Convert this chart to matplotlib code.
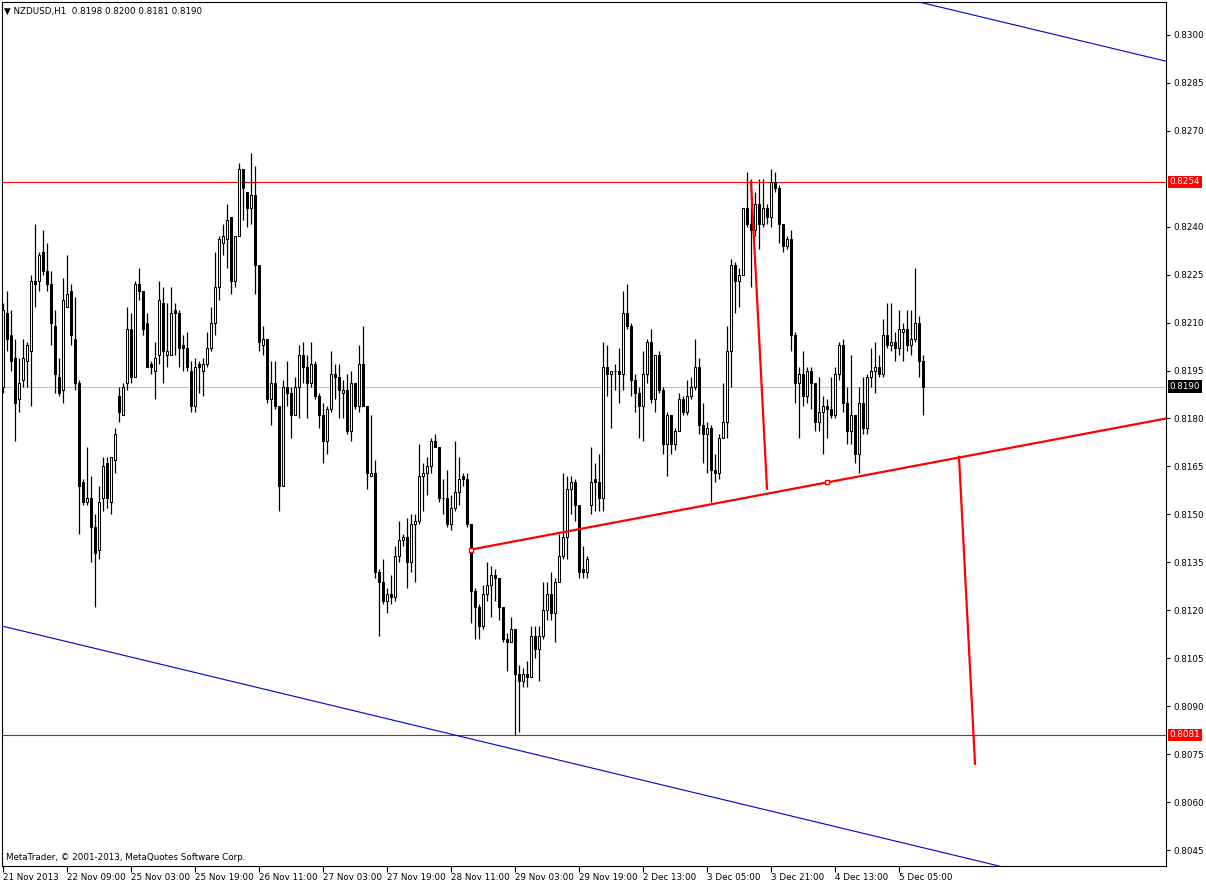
import numpy as np
import matplotlib
matplotlib.use('Agg')
import matplotlib.pyplot as plt

# NZDUSD H1 bars, 21 Nov 2013 -> 5 Dec 2013
opens = [
    0.8190, 0.8213, 0.8206, 0.8199, 0.8186, 0.8192, 0.8198, 0.8201, 0.8223, 0.8223,
    0.8232, 0.8226, 0.8222, 0.8209, 0.8193, 0.8189, 0.8215, 0.8220, 0.8205, 0.8191,
    0.8160, 0.8154, 0.8155, 0.8146, 0.8139, 0.8155, 0.8166, 0.8154, 0.8167, 0.8187,
    0.8181, 0.8191, 0.8208, 0.8193, 0.8222, 0.8220, 0.8210, 0.8197, 0.8195, 0.8200,
    0.8216, 0.8200, 0.8200, 0.8214, 0.8213, 0.8203, 0.8202, 0.8195, 0.8184, 0.8197,
    0.8195, 0.8197, 0.8202, 0.8210, 0.8221, 0.8235, 0.8236, 0.8243, 0.8223, 0.8237,
    0.8258, 0.8251, 0.8246, 0.8250, 0.8228, 0.8203, 0.8205, 0.8186, 0.8191, 0.8184,
    0.8159, 0.8190, 0.8188, 0.8181, 0.8190, 0.8200, 0.8196, 0.8191, 0.8197, 0.8187,
    0.8181, 0.8173, 0.8183, 0.8194, 0.8193, 0.8188, 0.8189, 0.8176, 0.8191, 0.8184,
    0.8197, 0.8184, 0.8162, 0.8163, 0.8132, 0.8129, 0.8123, 0.8125, 0.8124, 0.8137,
    0.8142, 0.8143, 0.8135, 0.8147, 0.8148, 0.8162, 0.8163, 0.8165, 0.8173, 0.8171,
    0.8155, 0.8155, 0.8147, 0.8152, 0.8157, 0.8162, 0.8161, 0.8147, 0.8126, 0.8121,
    0.8115, 0.8125, 0.8128, 0.8131, 0.8130, 0.8121, 0.8111, 0.8110, 0.8114, 0.8100,
    0.8098, 0.8100, 0.8099, 0.8112, 0.8108, 0.8112, 0.8120, 0.8125, 0.8119, 0.8129,
    0.8137, 0.8143, 0.8158, 0.8160, 0.8153, 0.8133, 0.8132, 0.8153, 0.8161, 0.8160,
    0.8155, 0.8196, 0.8194, 0.8195, 0.8195, 0.8194, 0.8213, 0.8209, 0.8192, 0.8188,
    0.8184, 0.8194, 0.8204, 0.8186, 0.8200, 0.8189, 0.8172, 0.8181, 0.8172, 0.8176,
    0.8186, 0.8182, 0.8187, 0.8190, 0.8196, 0.8178, 0.8175, 0.8177, 0.8164, 0.8163,
    0.8174, 0.8179, 0.8201, 0.8228, 0.8223, 0.8225, 0.8246, 0.8241, 0.8239, 0.8247,
    0.8241, 0.8246, 0.8243, 0.8254, 0.8252, 0.8241, 0.8234, 0.8236, 0.8206, 0.8191,
    0.8194, 0.8187, 0.8195, 0.8191, 0.8179, 0.8182, 0.8184, 0.8183, 0.8181, 0.8194,
    0.8203, 0.8185, 0.8176, 0.8181, 0.8169, 0.8185, 0.8177, 0.8193, 0.8195, 0.8196,
    0.8194, 0.8206, 0.8203, 0.8204, 0.8202, 0.8207, 0.8208, 0.8203, 0.8205, 0.8210,
    0.8198,
]
highs = [
    0.8216, 0.8220, 0.8214, 0.8205, 0.8199, 0.8205, 0.8204, 0.8225, 0.8241, 0.8232,
    0.8239, 0.8235, 0.8226, 0.8214, 0.8199, 0.8224, 0.8231, 0.8222, 0.8218, 0.8192,
    0.8161, 0.8171, 0.8162, 0.8150, 0.8159, 0.8168, 0.8168, 0.8168, 0.8177, 0.8190,
    0.8191, 0.8215, 0.8213, 0.8223, 0.8227, 0.8220, 0.8213, 0.8198, 0.8204, 0.8223,
    0.8221, 0.8216, 0.8221, 0.8216, 0.8214, 0.8206, 0.8207, 0.8198, 0.8199, 0.8198,
    0.8199, 0.8207, 0.8215, 0.8232, 0.8237, 0.8241, 0.8247, 0.8243, 0.8237, 0.8260,
    0.8258, 0.8251, 0.8263, 0.8259, 0.8228, 0.8209, 0.8205, 0.8198, 0.8198, 0.8184,
    0.8192, 0.8198, 0.8190, 0.8193, 0.8203, 0.8204, 0.8200, 0.8204, 0.8198, 0.8188,
    0.8185, 0.8184, 0.8201, 0.8197, 0.8197, 0.8192, 0.8194, 0.8195, 0.8191, 0.8203,
    0.8209, 0.8184, 0.8181, 0.8167, 0.8133, 0.8136, 0.8127, 0.8131, 0.8140, 0.8148,
    0.8144, 0.8149, 0.8150, 0.8150, 0.8172, 0.8166, 0.8168, 0.8174, 0.8175, 0.8171,
    0.8161, 0.8164, 0.8156, 0.8173, 0.8168, 0.8163, 0.8163, 0.8147, 0.8127, 0.8122,
    0.8128, 0.8135, 0.8134, 0.8133, 0.8130, 0.8121, 0.8113, 0.8118, 0.8114, 0.8103,
    0.8102, 0.8104, 0.8115, 0.8115, 0.8115, 0.8129, 0.8129, 0.8132, 0.8130, 0.8144,
    0.8163, 0.8162, 0.8162, 0.8161, 0.8153, 0.8140, 0.8137, 0.8171, 0.8166, 0.8169,
    0.8204, 0.8203, 0.8195, 0.8197, 0.8202, 0.8220, 0.8222, 0.8210, 0.8194, 0.8190,
    0.8201, 0.8205, 0.8208, 0.8200, 0.8201, 0.8190, 0.8182, 0.8181, 0.8177, 0.8188,
    0.8187, 0.8192, 0.8193, 0.8205, 0.8199, 0.8185, 0.8179, 0.8178, 0.8169, 0.8175,
    0.8191, 0.8209, 0.8230, 0.8229, 0.8227, 0.8246, 0.8257, 0.8255, 0.8251, 0.8255,
    0.8255, 0.8247, 0.8258, 0.8257, 0.8253, 0.8241, 0.8237, 0.8239, 0.8207, 0.8196,
    0.8201, 0.8196, 0.8196, 0.8191, 0.8193, 0.8187, 0.8186, 0.8193, 0.8196, 0.8204,
    0.8205, 0.8190, 0.8200, 0.8181, 0.8190, 0.8193, 0.8194, 0.8202, 0.8204, 0.8200,
    0.8211, 0.8216, 0.8216, 0.8207, 0.8214, 0.8210, 0.8214, 0.8214, 0.8227, 0.8212,
    0.8200,
]
lows = [
    0.8188, 0.8201, 0.8195, 0.8173, 0.8182, 0.8190, 0.8190, 0.8184, 0.8215, 0.8220,
    0.8225, 0.8220, 0.8203, 0.8188, 0.8187, 0.8185, 0.8215, 0.8203, 0.8189, 0.8144,
    0.8153, 0.8153, 0.8135, 0.8121, 0.8136, 0.8151, 0.8152, 0.8150, 0.8163, 0.8179,
    0.8181, 0.8189, 0.8191, 0.8193, 0.8217, 0.8206, 0.8196, 0.8194, 0.8186, 0.8197,
    0.8191, 0.8196, 0.8200, 0.8200, 0.8196, 0.8195, 0.8195, 0.8182, 0.8182, 0.8188,
    0.8187, 0.8196, 0.8201, 0.8206, 0.8217, 0.8231, 0.8227, 0.8219, 0.8221, 0.8237,
    0.8242, 0.8240, 0.8241, 0.8219, 0.8201, 0.8200, 0.8185, 0.8178, 0.8183, 0.8151,
    0.8159, 0.8184, 0.8174, 0.8181, 0.8180, 0.8191, 0.8180, 0.8190, 0.8186, 0.8177,
    0.8166, 0.8169, 0.8182, 0.8186, 0.8180, 0.8180, 0.8175, 0.8173, 0.8183, 0.8182,
    0.8184, 0.8158, 0.8162, 0.8130, 0.8112, 0.8122, 0.8119, 0.8122, 0.8123, 0.8135,
    0.8140, 0.8127, 0.8132, 0.8129, 0.8147, 0.8151, 0.8156, 0.8163, 0.8171, 0.8154,
    0.8150, 0.8146, 0.8145, 0.8151, 0.8153, 0.8159, 0.8146, 0.8116, 0.8111, 0.8111,
    0.8114, 0.8123, 0.8118, 0.8123, 0.8117, 0.8110, 0.8101, 0.8110, 0.8081, 0.8082,
    0.8096, 0.8096, 0.8099, 0.8105, 0.8098, 0.8111, 0.8117, 0.8117, 0.8110, 0.8129,
    0.8136, 0.8136, 0.8150, 0.8148, 0.8130, 0.8130, 0.8130, 0.8150, 0.8151, 0.8151,
    0.8151, 0.8187, 0.8177, 0.8189, 0.8185, 0.8189, 0.8208, 0.8187, 0.8182, 0.8174,
    0.8173, 0.8191, 0.8185, 0.8182, 0.8188, 0.8169, 0.8162, 0.8169, 0.8170, 0.8176,
    0.8181, 0.8181, 0.8186, 0.8189, 0.8175, 0.8166, 0.8163, 0.8154, 0.8160, 0.8161,
    0.8174, 0.8174, 0.8190, 0.8213, 0.8215, 0.8225, 0.8240, 0.8221, 0.8237, 0.8233,
    0.8240, 0.8241, 0.8240, 0.8251, 0.8235, 0.8232, 0.8233, 0.8201, 0.8185, 0.8174,
    0.8184, 0.8185, 0.8183, 0.8176, 0.8176, 0.8169, 0.8174, 0.8180, 0.8180, 0.8192,
    0.8182, 0.8172, 0.8172, 0.8166, 0.8163, 0.8175, 0.8175, 0.8190, 0.8188, 0.8193,
    0.8193, 0.8202, 0.8201, 0.8198, 0.8200, 0.8198, 0.8201, 0.8200, 0.8204, 0.8193,
    0.8181,
]
closes = [
    0.8214, 0.8205, 0.8198, 0.8185, 0.8191, 0.8199, 0.8203, 0.8223, 0.8222, 0.8231,
    0.8226, 0.8222, 0.8210, 0.8194, 0.8188, 0.8217, 0.8219, 0.8206, 0.8191, 0.8159,
    0.8154, 0.8155, 0.8146, 0.8138, 0.8154, 0.8165, 0.8155, 0.8168, 0.8175, 0.8182,
    0.8190, 0.8208, 0.8193, 0.8222, 0.8220, 0.8208, 0.8196, 0.8196, 0.8199, 0.8217,
    0.8201, 0.8201, 0.8213, 0.8213, 0.8202, 0.8202, 0.8196, 0.8184, 0.8196, 0.8196,
    0.8197, 0.8202, 0.8210, 0.8221, 0.8236, 0.8237, 0.8242, 0.8223, 0.8237, 0.8258,
    0.8252, 0.8246, 0.8250, 0.8228, 0.8204, 0.8205, 0.8186, 0.8191, 0.8184, 0.8159,
    0.8190, 0.8188, 0.8181, 0.8190, 0.8200, 0.8196, 0.8191, 0.8197, 0.8187, 0.8181,
    0.8173, 0.8183, 0.8194, 0.8193, 0.8189, 0.8189, 0.8176, 0.8191, 0.8184, 0.8197,
    0.8184, 0.8163, 0.8163, 0.8132, 0.8129, 0.8123, 0.8125, 0.8124, 0.8137, 0.8142,
    0.8143, 0.8135, 0.8147, 0.8148, 0.8162, 0.8163, 0.8165, 0.8173, 0.8171, 0.8155,
    0.8155, 0.8147, 0.8152, 0.8157, 0.8161, 0.8161, 0.8147, 0.8126, 0.8121, 0.8115,
    0.8125, 0.8128, 0.8131, 0.8130, 0.8121, 0.8111, 0.8110, 0.8114, 0.8100, 0.8098,
    0.8100, 0.8099, 0.8112, 0.8108, 0.8112, 0.8120, 0.8125, 0.8119, 0.8129, 0.8137,
    0.8143, 0.8158, 0.8160, 0.8153, 0.8132, 0.8132, 0.8136, 0.8160, 0.8160, 0.8155,
    0.8196, 0.8194, 0.8195, 0.8195, 0.8194, 0.8213, 0.8209, 0.8192, 0.8188, 0.8184,
    0.8194, 0.8204, 0.8186, 0.8200, 0.8189, 0.8172, 0.8181, 0.8172, 0.8176, 0.8186,
    0.8182, 0.8187, 0.8190, 0.8196, 0.8178, 0.8175, 0.8177, 0.8164, 0.8163, 0.8174,
    0.8179, 0.8201, 0.8228, 0.8223, 0.8225, 0.8246, 0.8241, 0.8239, 0.8247, 0.8241,
    0.8246, 0.8243, 0.8254, 0.8252, 0.8241, 0.8234, 0.8236, 0.8206, 0.8191, 0.8194,
    0.8187, 0.8195, 0.8191, 0.8179, 0.8182, 0.8184, 0.8183, 0.8181, 0.8194, 0.8203,
    0.8185, 0.8176, 0.8181, 0.8169, 0.8185, 0.8177, 0.8193, 0.8195, 0.8196, 0.8194,
    0.8206, 0.8203, 0.8204, 0.8202, 0.8208, 0.8208, 0.8203, 0.8205, 0.8210, 0.8198,
    0.8190,
]

# time axis: one label every 16 bars
time_tick_bars = [0, 16, 32, 48, 64, 80, 96, 112, 128, 144, 160, 176, 192, 208, 224]
time_tick_labels = ['21 Nov 2013', '22 Nov 09:00', '25 Nov 03:00', '25 Nov 19:00',
                    '26 Nov 11:00', '27 Nov 03:00', '27 Nov 19:00', '28 Nov 11:00',
                    '29 Nov 03:00', '29 Nov 19:00', '2 Dec 13:00', '3 Dec 05:00',
                    '3 Dec 21:00', '4 Dec 13:00', '5 Dec 05:00']
price_ticks = [0.8300, 0.8285, 0.8270, 0.8240, 0.8225, 0.8210, 0.8195, 0.8180, 0.8165,
               0.8150, 0.8135, 0.8120, 0.8105, 0.8090, 0.8075, 0.8060, 0.8045]

# objects drawn on the chart
level_prices = [0.8254, 0.8081]
bid_price = 0.8190
channel_upper = [(230, 0.8310), (290, 0.8292)]
channel_lower = [(0, 0.8115), (249, 0.8040)]
trend_anchors = [(117, 0.8139), (206, 0.8160)]
target_moves = [[(187, 0.8254), (191, 0.8158)],
                [(239, 0.8168), (243, 0.8072)]]

header_text = '\u25bc NZDUSD,H1  0.8198 0.8200 0.8181 0.8190'
footer_text = 'MetaTrader, \u00a9 2001-2013, MetaQuotes Software Corp.'

fs = 6.3
fig = plt.figure(figsize=(12.06, 8.84), dpi=100)
fig.patch.set_facecolor('white')
ax = fig.add_axes([2 / 1206, 18 / 884, 1164 / 1206, 864 / 884])
ax.set_facecolor('white')

x = np.arange(len(closes))
o = np.array(opens)
h = np.array(highs)
l = np.array(lows)
c = np.array(closes)
up = c >= o

# horizontal levels behind the candles
ax.axhline(bid_price, color='#c0c0c0', linewidth=0.8, zorder=1)
for lvl in level_prices:
    ax.axhline(lvl, color='red', linewidth=0.8, zorder=1)

# candles
ax.vlines(x, l, h, color='black', linewidth=0.9, zorder=2)
ax.bar(x[up], c[up] - o[up], bottom=o[up], width=0.5, facecolor='white',
       edgecolor='black', linewidth=0.75, zorder=3)
ax.bar(x[~up], c[~up] - o[~up], bottom=o[~up], width=0.5, facecolor='black',
       edgecolor='black', linewidth=0.75, zorder=3)

ax.set_xlim(-0.25, 290.75)
ax.set_ylim(0.8040, 0.83103)

# channel
ax.axline(channel_upper[0], channel_upper[1], color='#0000c8', linewidth=0.8, zorder=4)
ax.axline(channel_lower[0], channel_lower[1], color='#0000c8', linewidth=0.8, zorder=4)

# red trend ray from the first anchor to the right edge
(b1, p1), (b2, p2) = trend_anchors
slope = (p2 - p1) / (b2 - b1)
x_end = ax.get_xlim()[1]
ax.plot([b1, x_end], [p1, p2 + slope * (x_end - b2)], color='red', linewidth=1.6, zorder=5)
ax.plot([b1, b2], [p1, p2], linestyle='none', marker='s', markersize=3.5,
        markerfacecolor='white', markeredgecolor='red', markeredgewidth=1.0, zorder=6)

for seg in target_moves:
    ax.plot([seg[0][0], seg[1][0]], [seg[0][1], seg[1][1]], color='red', linewidth=1.6, zorder=5)

# axes styling
for sp in ax.spines.values():
    sp.set_color('black')
    sp.set_linewidth(0.8)

ax.yaxis.tick_right()
ax.set_yticks(price_ticks)
ax.set_yticklabels(['%.4f' % p for p in price_ticks])
ax.tick_params(axis='y', direction='out', length=3, width=0.8, pad=2, labelsize=fs)

ax.set_xticks(time_tick_bars)
ax.set_xticklabels(time_tick_labels)
ax.tick_params(axis='x', direction='out', length=4, width=0.8, pad=1, labelsize=fs)
for lbl in ax.get_xticklabels():
    lbl.set_ha('left')

# price labels on the axis
ytrans = ax.get_yaxis_transform()
for lvl in level_prices:
    ax.text(1.0032, lvl, '%.4f' % lvl, transform=ytrans, ha='left', va='center',
            color='white', fontsize=fs, zorder=10,
            bbox=dict(boxstyle='square,pad=0.2', facecolor='red', edgecolor='none'))
ax.text(1.0032, bid_price, '%.4f' % bid_price, transform=ytrans, ha='left', va='center',
        color='white', fontsize=fs, zorder=10,
        bbox=dict(boxstyle='square,pad=0.2', facecolor='black', edgecolor='none'))

fig.text(4 / 1206, 1 - 11 / 884, header_text, ha='left', va='center', fontsize=fs)
fig.text(6 / 1206, 1 - 858 / 884, footer_text, ha='left', va='center', fontsize=fs)

fig.savefig('out.png', dpi=100, facecolor='white')
